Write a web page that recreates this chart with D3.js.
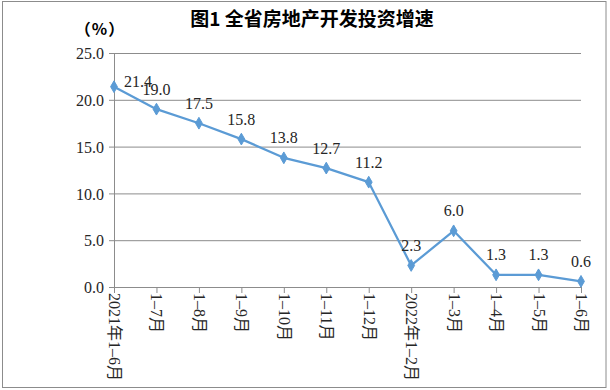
<!DOCTYPE html>
<html><head><meta charset="utf-8">
<script src="https://cdn.jsdelivr.net/npm/d3@7"></script>
<style>
html,body{margin:0;padding:0;background:#fff;}
svg{display:block;}
</style></head>
<body>
<svg id="chart" width="610" height="390"></svg>
<script>
const title = "图1 全省房地产开发投资增速";
const unitLabel = "（%）";
const categories = ["2021年1–6月","1–7月","1–8月","1–9月","1–10月","1–11月","1–12月","2022年1–2月","1–3月","1–4月","1–5月","1–6月"];
const values = [21.4, 19.0, 17.5, 15.8, 13.8, 12.7, 11.2, 2.3, 6.0, 1.3, 1.3, 0.6];
const yTicks = [0, 5, 10, 15, 20, 25];

(function(){
const svg = d3.select("#chart");
const serif = "'Liberation Serif','Times New Roman','Noto Sans CJK SC',serif";
const textColor = "#262626";
const gridColor = "#8c8c8c";
const lineColor = "#5b9bd5";

svg.append("rect").attr("x",2.5).attr("y",1.5).attr("width",603.5).attr("height",386)
  .attr("fill","#fff").attr("stroke","#8c8c8c").attr("stroke-width",1);

const pl = 114, pr = 581, pt = 53, pb = 287;
const x = d3.scalePoint().domain(categories).range([pl, pr]).padding(0);
const y = d3.scaleLinear().domain([0, 25]).range([pb, pt]);

svg.append("text").attr("x", 312).attr("y", 26).attr("text-anchor","middle")
  .attr("font-family","'Noto Sans CJK SC',sans-serif").attr("font-weight","bold")
  .attr("font-size",19).attr("fill","#000").text(title);

svg.append("text").attr("x", 100).attr("y", 35).attr("text-anchor","middle")
  .attr("font-family","'Noto Sans CJK SC',sans-serif").attr("font-weight","bold")
  .attr("font-size",16).attr("letter-spacing",1).attr("fill","#000").text(unitLabel);

const yAxis = svg.append("g").attr("transform",`translate(${pl},0)`)
  .call(d3.axisLeft(y).tickValues(yTicks).tickFormat(d3.format(".1f"))
        .tickSize(-(pr-pl)).tickSizeOuter(0).tickPadding(10));
yAxis.select(".domain").attr("stroke",gridColor);
yAxis.selectAll(".tick line").attr("stroke",gridColor).attr("x1",-5);
yAxis.selectAll(".tick text").attr("font-family",serif).attr("font-size",16)
  .attr("fill",textColor).attr("dy","0.35em");

const xAxis = svg.append("g").attr("transform",`translate(0,${pb})`)
  .call(d3.axisBottom(x).tickSize(6).tickSizeOuter(0).tickPadding(0));
xAxis.select(".domain").attr("stroke",gridColor);
xAxis.selectAll(".tick line").attr("stroke",gridColor);
xAxis.selectAll(".tick text")
  .attr("font-family",serif).attr("font-size",16).attr("fill",textColor)
  .attr("text-anchor","start").attr("dy",null).attr("y",0)
  .attr("transform","translate(0,6) rotate(90)")
  .attr("dominant-baseline","central");

const line = d3.line().x((d,i)=>x(categories[i])).y(d=>y(d));
svg.append("path").datum(values).attr("d",line).attr("fill","none")
  .attr("stroke",lineColor).attr("stroke-width",2.25).attr("stroke-linejoin","round");

const diamond = d3.symbol().type(d3.symbolDiamond).size(40);
svg.selectAll(".pt").data(values).join("path").attr("class","pt")
  .attr("d",diamond).attr("transform",(d,i)=>`translate(${x(categories[i])},${y(d)})`)
  .attr("fill",lineColor).attr("stroke",lineColor).attr("stroke-width",1);

svg.selectAll(".lbl").data(values).join("text").attr("class","lbl")
  .attr("x",(d,i)=> x(categories[i]) + (i===0 ? 24 : 0))
  .attr("y",(d,i)=> y(d) - (i===0 ? 0 : 14.5))
  .attr("text-anchor","middle").attr("font-family",serif).attr("font-size",16)
  .attr("fill",textColor).text(d=>d3.format(".1f")(d));
})();
</script>
</body></html>
